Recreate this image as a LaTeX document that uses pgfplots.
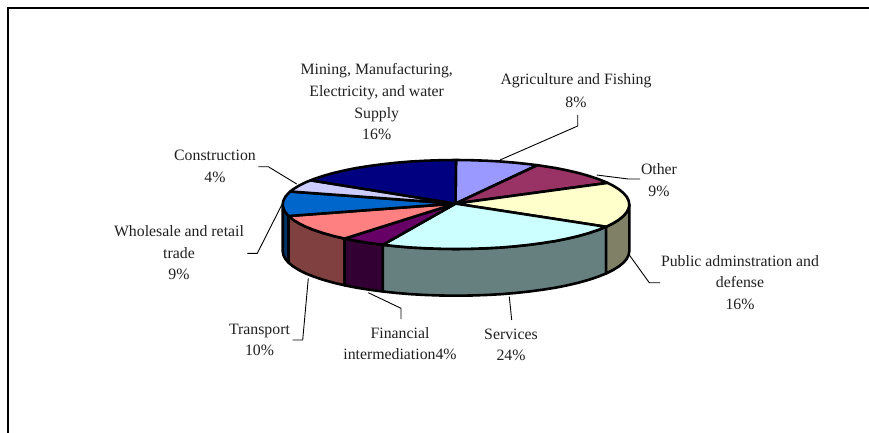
\documentclass[border=0pt]{standalone}
\usepackage{fontspec}
\setmainfont{Liberation Serif}
\usepackage{pgfplots}
\pgfplotsset{compat=1.18}
\definecolor{cAgri}{HTML}{9999FF}
\definecolor{cOther}{HTML}{993366}
\definecolor{cPub}{HTML}{FFFFCC}
\definecolor{cServ}{HTML}{CCFFFF}
\definecolor{cFin}{HTML}{660066}
\definecolor{cTrans}{HTML}{FF8080}
\definecolor{cWhole}{HTML}{0066CC}
\definecolor{cCons}{HTML}{CCCCFF}
\definecolor{cMin}{HTML}{000080}
\definecolor{sPub}{HTML}{808066}
\definecolor{sServ}{HTML}{668080}
\definecolor{sFin}{HTML}{330033}
\definecolor{sTrans}{HTML}{804040}
\definecolor{sWhole}{HTML}{003366}
\newcommand{\lab}[3]{\node[anchor=base,inner sep=0pt,text=black!88] at (axis cs:#1,#2) {#3};}
\begin{document}
\begin{tikzpicture}
\begin{axis}[
  scale only axis, width=869pt, height=433pt,
  xmin=0, xmax=869, ymin=0, ymax=433, y dir=reverse,
  axis lines=none, clip=true,
  every axis plot/.append style={mark=none},
  pie/.style={draw=black, line width=2.6pt, line join=round, y filter/.expression={y+1}},
  lead/.style={draw=black, line width=0.9pt, forget plot},
  nodes={font=\fontsize{15.8}{18}\selectfont},
]
% full extent of the picture
\addplot[draw=none] coordinates {(0,0)(869,433)};
% frame
\addplot[draw=black,line width=2pt] coordinates {(7.8,433)(7.8,7.8)(869,7.8)};
% leader lines
\addplot[lead] coordinates {(500,160)(577.7,126)(577.7,115)};
\addplot[lead] coordinates {(596.7,175)(628.3,179)(640,179)};
\addplot[lead] coordinates {(296.7,184)(268.3,166.7)(258.3,166.7)};
\addplot[lead] coordinates {(281.7,205)(257.3,253.3)(247.3,253.3)};
\addplot[lead] coordinates {(308.3,278.3)(302.7,340)(292.7,340)};
\addplot[lead] coordinates {(368.3,292.7)(401,308.3)(401,319)};
\addplot[lead] coordinates {(509.3,296.7)(511.7,320)};
\addplot[lead] coordinates {(629.3,255)(649.3,282.7)(660,282.7)};
% side faces
\addplot[pie,fill=sWhole] coordinates {(282.7,203.5)(283.4,207.4)(285.3,211.2)(288.6,215.0)(288.6,261.7)(285.3,257.9)(283.4,254.1)(282.7,250.2)} -- cycle;
\addplot[pie,fill=sTrans] coordinates {(288.6,215.0)(293.1,218.7)(298.9,222.3)(305.9,225.8)(314.0,229.0)(323.2,232.1)(333.5,235.0)(344.6,237.6)(344.6,284.3)(333.5,281.7)(323.2,278.8)(314.0,275.7)(305.9,272.5)(298.9,269.0)(293.1,265.4)(288.6,261.7)} -- cycle;
\addplot[pie,fill=sFin] coordinates {(344.6,237.6)(356.6,240.0)(369.3,242.0)(382.8,243.8)(382.8,290.5)(369.3,288.7)(356.6,286.7)(344.6,284.3)} -- cycle;
\addplot[pie,fill=sServ] coordinates {(382.8,243.8)(396.7,245.3)(411.1,246.5)(425.9,247.3)(440.9,247.8)(456,248)(471.1,247.8)(486.1,247.3)(500.9,246.5)(515.3,245.3)(529.2,243.8)(542.7,242.0)(555.4,240.0)(567.4,237.6)(578.5,235.0)(588.8,232.1)(598.0,229.0)(606.1,225.8)(606.1,272.5)(598.0,275.7)(588.8,278.8)(578.5,281.7)(567.4,284.3)(555.4,286.7)(542.7,288.7)(529.2,290.5)(515.3,292.0)(500.9,293.2)(486.1,294.0)(471.1,294.5)(456,294.7)(440.9,294.5)(425.9,294.0)(411.1,293.2)(396.7,292.0)(382.8,290.5)} -- cycle;
\addplot[pie,fill=sPub] coordinates {(606.1,225.8)(613.1,222.3)(618.9,218.7)(623.4,215.0)(626.7,211.2)(628.6,207.4)(629.3,203.5)(629.3,250.2)(628.6,254.1)(626.7,257.9)(623.4,261.7)(618.9,265.4)(613.1,269.0)(606.1,272.5)} -- cycle;
% top wedges
\addplot[pie,fill=cAgri] coordinates {(455.5,202.6)(456,159)(471.1,159.2)(486.1,159.7)(500.9,160.5)(515.3,161.7)(529.2,163.2)(537.4,164.2)} -- cycle;
\addplot[pie,fill=cOther] coordinates {(455.5,202.6)(537.4,164.2)(542.7,165.0)(555.4,167.0)(567.4,169.4)(578.5,172.0)(588.8,174.9)(598.0,178.0)(606.1,181.2)(607.6,181.9)} -- cycle;
\addplot[pie,fill=cPub] coordinates {(455.5,202.6)(607.6,181.9)(613.1,184.7)(618.9,188.3)(623.4,192.0)(626.7,195.8)(628.6,199.6)(629.3,203.5)(628.6,207.4)(626.7,211.2)(623.4,215.0)(618.9,218.7)(613.1,222.3)(606.1,225.8)} -- cycle;
\addplot[pie,fill=cServ] coordinates {(455.5,202.6)(606.1,225.8)(598.0,229.0)(588.8,232.1)(578.5,235.0)(567.4,237.6)(555.4,240.0)(542.7,242.0)(529.2,243.8)(515.3,245.3)(500.9,246.5)(486.1,247.3)(471.1,247.8)(456,248)(440.9,247.8)(425.9,247.3)(411.1,246.5)(396.7,245.3)(382.8,243.8)} -- cycle;
\addplot[pie,fill=cFin] coordinates {(455.5,202.6)(382.8,243.8)(369.3,242.0)(356.6,240.0)(344.6,237.6)} -- cycle;
\addplot[pie,fill=cTrans] coordinates {(455.5,202.6)(344.6,237.6)(333.5,235.0)(323.2,232.1)(314.0,229.0)(305.9,225.8)(298.9,222.3)(293.1,218.7)(288.6,215.0)} -- cycle;
\addplot[pie,fill=cWhole] coordinates {(455.5,202.6)(288.6,215.0)(285.3,211.2)(283.4,207.4)(282.7,203.5)(283.4,199.6)(285.3,195.8)(288.6,192.0)(290.3,190.5)} -- cycle;
\addplot[pie,fill=cCons] coordinates {(455.5,202.6)(290.3,190.5)(293.1,188.3)(298.9,184.7)(305.9,181.2)(310.7,179.3)} -- cycle;
\addplot[pie,fill=cMin] coordinates {(455.5,202.6)(310.7,179.3)(314.0,178.0)(323.2,174.9)(333.5,172.0)(344.6,169.4)(356.6,167.0)(369.3,165.0)(382.8,163.2)(396.7,161.7)(411.1,160.5)(425.9,159.7)(440.9,159.2)(456,159)} -- cycle;
% labels
\lab{576}{84.5}{Agriculture and Fishing}
\lab{576}{107}{8\%}
\lab{376.7}{75}{Mining, Manufacturing,}
\lab{376.7}{97}{Electricity, and water}
\lab{376.7}{118.5}{Supply}
\lab{376.7}{139.5}{16\%}
\lab{659}{174}{Other}
\lab{659}{196}{9\%}
\lab{215}{160.5}{Construction}
\lab{215}{182}{4\%}
\lab{179}{236.5}{Wholesale and retail}
\lab{179}{258}{trade}
\lab{179}{279}{9\%}
\lab{259.5}{334}{Transport}
\lab{259.5}{355}{10\%}
\lab{400}{338}{Financial}
\lab{400}{359}{intermediation4\%}
\lab{511}{339}{Services}
\lab{511}{360}{24\%}
\lab{740}{266}{Public adminstration and}
\lab{740}{287}{defense}
\lab{740}{309}{16\%}
\end{axis}
\end{tikzpicture}
\end{document}
